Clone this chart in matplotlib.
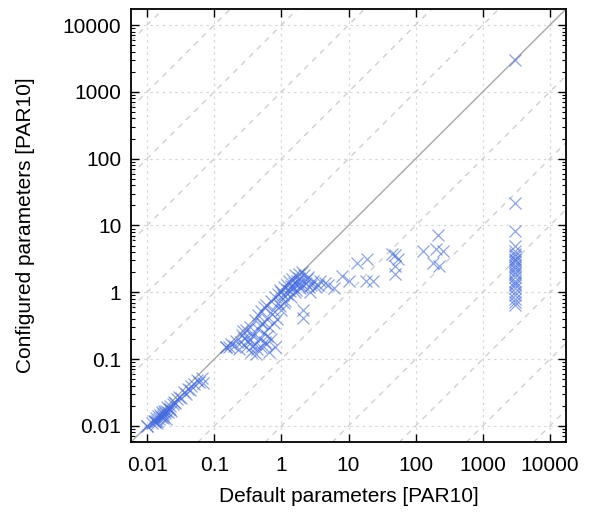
import numpy as np
import matplotlib
matplotlib.use('Agg')
import matplotlib.pyplot as plt

# ── Data ───────────────────────────────────────────────
# near-diagonal cluster, small runtimes
low_x = [0.0100, 0.0100, 0.0120, 0.0125, 0.0130, 0.0135, 0.0140, 0.0145, 0.0150, 0.0155,
         0.0160, 0.0165, 0.0170, 0.0175, 0.0180, 0.0185, 0.0190, 0.0200, 0.0205,
         0.0210, 0.0220, 0.0230, 0.0240, 0.0250, 0.0260, 0.0280, 0.0300, 0.0320,
         0.0350, 0.0380, 0.0400, 0.0430, 0.0450, 0.0500, 0.0550, 0.0600, 0.0650,
         0.0680, 0.0140, 0.0170, 0.0220, 0.0190, 0.0130]
low_y = [0.0100, 0.0100, 0.0110, 0.0120, 0.0115, 0.0130, 0.0120, 0.0140, 0.0125, 0.0145,
         0.0135, 0.0160, 0.0150, 0.0140, 0.0170, 0.0155, 0.0165, 0.0190, 0.0160,
         0.0180, 0.0200, 0.0170, 0.0210, 0.0230, 0.0220, 0.0250, 0.0270, 0.0260,
         0.0320, 0.0300, 0.0360, 0.0340, 0.0400, 0.0420, 0.0480, 0.0450, 0.0520,
         0.0440, 0.0110, 0.0130, 0.0180, 0.0125, 0.0120]

# middle cluster 0.15 .. 1
mid_x = [0.150, 0.150, 0.165, 0.180, 0.200, 0.210, 0.230, 0.250, 0.260, 0.280,
         0.300, 0.300, 0.320, 0.340, 0.350, 0.360, 0.380, 0.400, 0.400, 0.420,
         0.450, 0.450, 0.480, 0.500, 0.500, 0.520, 0.550, 0.550, 0.580, 0.600,
         0.600, 0.620, 0.650, 0.650, 0.700, 0.700, 0.720, 0.750, 0.780, 0.800,
         0.800, 0.850, 0.900, 0.950, 0.360, 0.440, 0.330, 0.520, 0.620, 0.270]
mid_y = [0.150, 0.150, 0.150, 0.170, 0.160, 0.190, 0.140, 0.180, 0.230, 0.210,
         0.270, 0.150, 0.180, 0.300, 0.130, 0.250, 0.220, 0.380, 0.170, 0.120,
         0.280, 0.450, 0.200, 0.150, 0.520, 0.330, 0.250, 0.600, 0.180, 0.170,
         0.650, 0.400, 0.300, 0.130, 0.200, 0.750, 0.480, 0.550, 0.350, 0.850,
         0.150, 0.400, 0.950, 0.620, 0.160, 0.140, 0.200, 0.350, 0.220, 0.260]

# upper cluster 1 .. 10
up_x = [1.00, 1.00, 1.05, 1.10, 1.15, 1.20, 1.20, 1.25, 1.30, 1.35, 1.40, 1.45,
        1.50, 1.55, 1.60, 1.65, 1.70, 1.75, 1.80, 1.85, 1.90, 2.00, 2.00, 2.10,
        2.10, 2.20, 2.30, 2.40, 2.50, 2.60, 2.80, 3.00, 3.30, 3.80, 4.50, 5.00,
        6.00, 8.10, 10.0, 1.10, 1.40, 1.60, 0.90, 0.95, 2.70, 3.50, 1.90]
up_y = [1.00, 0.55, 0.90, 1.20, 0.75, 1.30, 0.95, 1.10, 1.50, 1.05, 1.25, 1.60,
        1.20, 1.40, 1.80, 1.10, 1.50, 1.30, 1.90, 1.65, 1.45, 2.00, 1.20, 0.54,
        0.41, 1.80, 1.40, 1.60, 1.70, 1.20, 1.30, 1.50, 1.20, 1.46, 1.36, 1.27,
        1.15, 1.73, 1.50, 0.70, 0.85, 1.00, 0.70, 1.10, 1.00, 1.30, 1.15]

# scattered 10 .. 300
far_x = [13.6, 19.0, 18.0, 22.8, 45.0, 50.0, 54.0, 50.0, 50.0, 127.0, 212.0,
         200.0, 260.0, 180.0, 220.0]
far_y = [2.70, 3.20, 1.50, 1.46, 3.80, 3.60, 3.20, 2.45, 1.90, 4.10, 7.10,
         4.50, 4.20, 2.70, 2.50]

# timeouts column at ~3000
col_y = [3000.0, 22.0, 8.4, 5.0, 4.2, 3.8, 3.5, 3.2, 3.0, 2.8, 2.6, 2.4, 2.2,
         2.0, 1.9, 1.7, 1.5, 1.4, 1.3, 1.15, 1.0, 0.9, 0.8, 0.72, 0.65]
col_x = [3000.0] * len(col_y)

xs = np.array(low_x + mid_x + up_x + far_x + col_x)
ys = np.array(low_y + mid_y + up_y + far_y + col_y)

LO, HI = 10 ** -2.24, 10 ** 4.24

# ── Plot ───────────────────────────────────────────────
plt.rcParams['font.family'] = ['Liberation Sans', 'DejaVu Sans']
fig = plt.figure(figsize=(5.89, 5.12), dpi=100)
ax = fig.add_axes([131 / 589, 1 - 442 / 512, 435 / 589, 433 / 512])

ax.set_xscale('log')
ax.set_yscale('log')
ax.set_xlim(LO, HI)
ax.set_ylim(LO, HI)

line = np.array([1e-4, 1e6])
for k in range(-7, 8):
    if k == 0:
        continue
    ax.plot(line, line * 10.0 ** k, color='#d0d0d0', lw=1.0,
            dashes=(4, 4), zorder=1)
ax.plot(line, line, color='#a8a8a8', lw=1.0, zorder=2)

ax.plot(xs, ys, linestyle='none', marker='x', ms=8.5, mew=0.9,
        color='#4169e1', alpha=0.6, zorder=3)

ax.grid(True, which='major', color='#d8d8d8', linestyle=(0, (2, 3)), lw=0.9)
ax.set_axisbelow(True)

ticks = [0.01, 0.1, 1, 10, 100, 1000, 10000]
labels = ['0.01', '0.1', '1', '10', '100', '1000', '10000']
ax.set_xticks(ticks)
ax.set_xticklabels(labels)
ax.set_yticks(ticks)
ax.set_yticklabels(labels)
ax.tick_params(which='major', direction='in', length=6, width=1,
               top=True, right=True, labelsize=15, pad=7)
ax.tick_params(axis='x', which='major', pad=10)
ax.tick_params(which='minor', direction='in', length=3, width=0.8,
               top=True, right=True)
for s in ax.spines.values():
    s.set_linewidth(1.3)

ax.set_xlabel('Default parameters [PAR10]', fontsize=15, labelpad=9)
ax.set_ylabel('Configured parameters [PAR10]', fontsize=15, labelpad=20)

fig.savefig('out.png', dpi=100)
